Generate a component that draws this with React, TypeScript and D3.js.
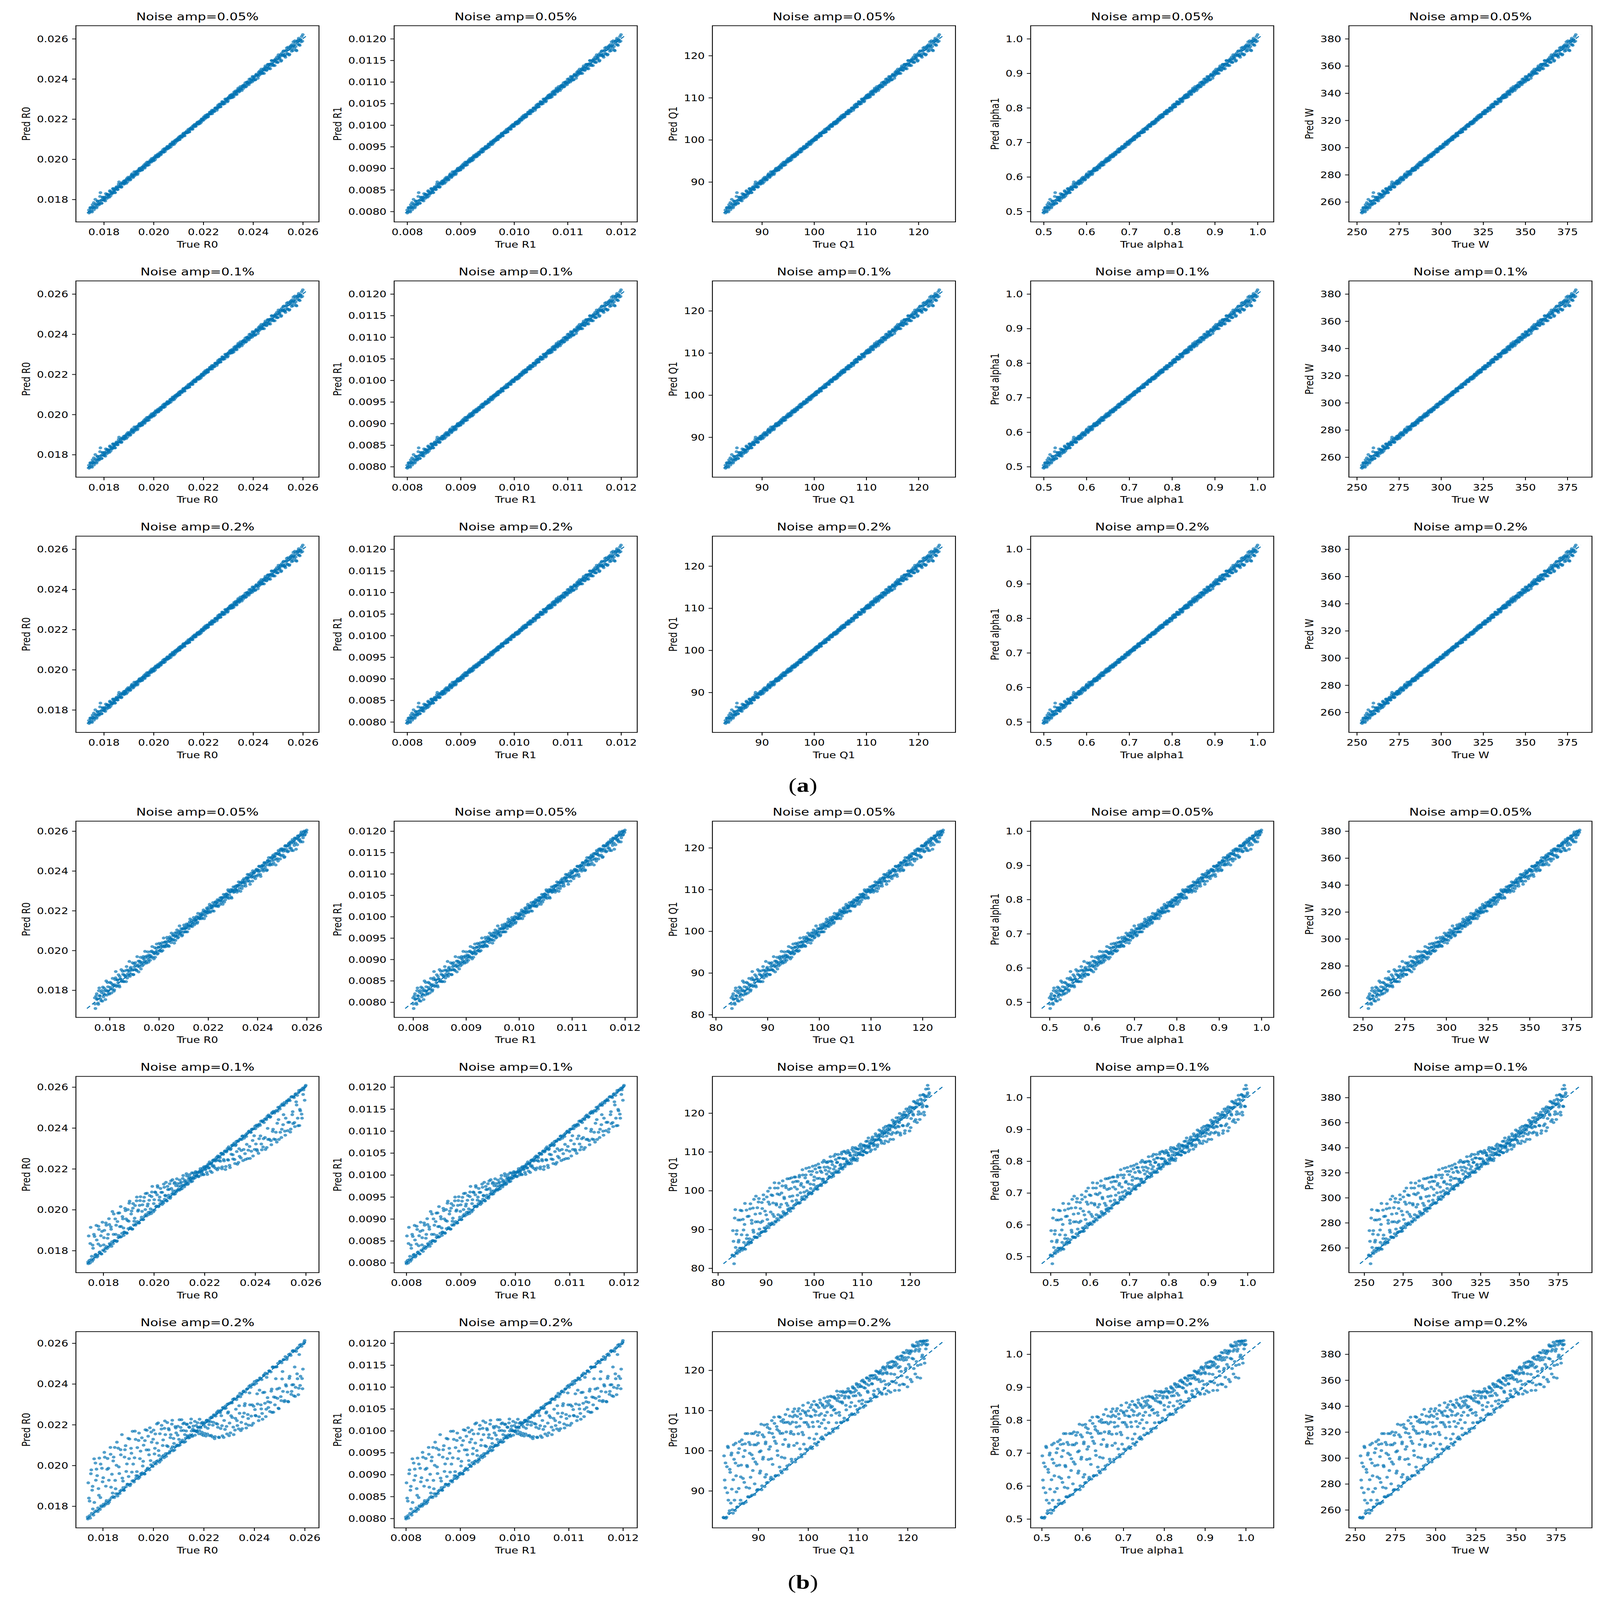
import * as d3 from 'd3';
import React, { useEffect, useRef } from 'react';

// Predicted vs true parameter scatter grid, (a) and (b) blocks of 3 x 5 panels

const PARAMS = ['R0', 'R1', 'Q1', 'alpha1', 'W'];
const NOISE = ['0.05%', '0.1%', '0.2%'];
const TRUE_MIN = [0.0174, 0.008, 83, 0.5, 253];
const TRUE_MAX = [0.026, 0.012, 124, 1.0, 380];
const X_STEP = [0.002, 0.001, 10, 0.1, 25];
const Y_STEP = [0.002, 0.0005, 10, 0.1, 20];
const X_DEC = [3, 3, 0, 1, 0];
const Y_DEC = [3, 4, 0, 1, 0];

// true values, per-mille of each parameter's range (same test samples in every panel)
const TRUE_U = [
    0, 3, 9, 12, 17, 21, 24, 30, 33, 38, 41, 47, 50, 54, 59, 62, 66, 72, 75, 79,
    84, 87, 92, 96, 99, 105, 108, 112, 117, 120, 125, 129, 133, 138, 141, 146, 150, 153, 158, 163,
    166, 170, 175, 178, 183, 187, 191, 195, 200, 204, 207, 212, 216, 221, 224, 229, 233, 237, 241, 246,
    250, 254, 258, 263, 266, 271, 275, 279, 283, 287, 292, 295, 300, 304, 308, 312, 317, 320, 325, 329,
    333, 338, 341, 346, 350, 354, 358, 362, 367, 370, 375, 379, 383, 388, 391, 396, 400, 404, 408, 413,
    416, 421, 425, 429, 433, 437, 442, 445, 450, 454, 458, 462, 467, 470, 475, 479, 483, 487, 492, 495,
    500, 504, 508, 513, 516, 521, 525, 529, 533, 537, 542, 545, 550, 554, 558, 562, 567, 571, 575, 579,
    583, 587, 592, 596, 600, 604, 608, 613, 616, 621, 625, 629, 633, 637, 642, 646, 650, 654, 658, 663,
    666, 671, 675, 679, 683, 688, 691, 696, 700, 704, 708, 712, 717, 721, 725, 729, 733, 738, 742, 746,
    750, 754, 758, 763, 767, 771, 775, 779, 783, 788, 792, 796, 800, 804, 808, 813, 817, 821, 825, 829,
    833, 838, 842, 846, 850, 854, 858, 863, 867, 871, 875, 879, 883, 888, 892, 896, 900, 904, 908, 913,
    917, 921, 925, 929, 933, 938, 942, 946, 950, 954, 958, 963, 967, 971, 975, 979, 983, 988, 992, 1000,
    // second batch of samples
    1, 6, 10, 15, 19, 23, 27, 31, 36, 40, 44, 48, 52, 57, 60, 64, 69, 73, 77, 82,
    85, 90, 94, 98, 102, 106, 110, 115, 118, 123, 127, 131, 135, 139, 144, 148, 152, 156, 160, 164,
    168, 172, 177, 181, 185, 189, 193, 198, 202, 206, 210, 214, 218, 223, 227, 231, 235, 239, 244, 248,
    252, 256, 261, 264, 269, 273, 277, 281, 285, 290, 293, 298, 302, 306, 310, 315, 319, 323, 327, 331,
    336, 340, 344, 348, 352, 356, 360, 365, 369, 373, 377, 381, 386, 390, 394, 398, 402, 406, 411, 415,
    419, 423, 427, 431, 435, 440, 444, 448, 452, 456, 460, 465, 469, 473, 477, 481, 485, 490, 494, 498,
    502, 506, 511, 515, 519, 523, 527, 531, 535, 540, 544, 548, 552, 556, 560, 565, 569, 573, 577, 581,
    585, 590, 594, 598, 602, 606, 611, 615, 619, 623, 627, 631, 635, 640, 644, 648, 652, 656, 661, 665,
    669, 673, 677, 681, 686, 690, 694, 698, 702, 706, 710, 715, 719, 723, 727, 731, 736, 740, 744, 748,
    752, 756, 761, 765, 769, 773, 777, 781, 786, 790, 794, 798, 802, 806, 811, 815, 819, 823, 827, 831,
    836, 840, 844, 848, 852, 856, 861, 865, 869, 873, 877, 881, 886, 890, 894, 898, 902, 906, 911, 915,
    919, 923, 927, 931, 936, 940, 944, 948, 952, 956, 961, 965, 969, 973, 977, 981, 986, 990, 995, 998,
];

// prediction error (pred - true), per-mille
const ERR_A = [
    8, -6, 14, -10, 22, 3, -14, 40, 5, -8, 18, -4, 10, 55, -12, 6, 15, -7, 2, 24,
    -9, 12, 4, -13, 16, 1, -5, 20, 9, -11, 3, 14, -6, 8, 30, -3, 11, -9, 5, 13,
    -4, 9, -12, 6, 15, -2, 7, -8, 12, 3, -10, 18, 1, -5, 9, -7, 4, 13, -3, 8,
    -9, 6, 11, -4, 2, 14, -7, 5, -1, 10, -6, 3, 8, -10, 4, 12, -3, 6, -8, 1,
    9, -5, 3, 11, -7, 2, 6, -3, 10, -6, 1, 7, -9, 4, 12, -2, 5, -7, 8, 2,
    -4, 10, -8, 3, 6, -2, 11, -6, 4, 0, 8, -5, 3, -9, 7, 1, -4, 9, -2, 5,
    -7, 3, 9, -4, 6, -1, -9, 5, 2, 10, -6, 4, -3, 8, -8, 1, 6, -5, 11, -2,
    4, -8, 7, 2, -5, 12, -3, 6, -10, 3, 9, -6, 1, 14, -4, 7, -9, 5, 10, -3,
    6, -11, 2, 13, -6, 4, -14, 9, 1, -7, 15, -3, 5, -10, 8, 2, -12, 11, -5, 7,
    16, -8, 3, -13, 10, -4, 7, -16, 12, 1, -9, 5, 14, -6, 2, -12, 9, -3, 18, -10,
    4, 13, -15, 6, -7, 20, -2, -18, 9, 3, -11, 15, -20, 7, -5, 12, -25, 2, 18, -9,
    -14, 8, 22, -17, 5, -28, 12, -6, 16, -22, 3, 25, -12, -40, 9, 14, -18, 6, -10, 24,
    -10, 16, 4, -18, 9, 28, -6, 12, -15, 20, 2, -9, 35, 7, -12, 18, -4, 10, -16, 6,
    14, -7, 3, 22, -11, 8, -3, 17, 1, -14, 10, 5, -8, 19, -2, 7, -12, 11, 4, -6,
    9, -3, 13, -9, 5, 1, -11, 8, 16, -5, 2, -7, 10, 4, -13, 6, 11, -4, 3, -8,
    7, -2, -10, 12, 3, -6, 9, -11, 4, 1, 13, -5, -2, 8, -9, 5, 0, 10, -6, 3,
    -8, 6, 2, -4, 11, -9, 4, 8, -3, 1, -7, 10, 3, -5, 6, -10, 9, 2, -4, 7,
    5, -7, 9, -1, -6, 8, 2, -10, 6, 3, -4, 11, -8, 5, -2, 7, -9, 4, 10, -5,
    3, 8, -6, 1, -10, 5, 9, -3, -7, 4, 12, -5, 7, -9, 2, 10, -4, 6, -11, 3,
    -5, 9, 2, -12, 6, -4, 11, -8, 3, 13, -6, 1, -11, 8, 4, -13, 7, -2, 12, -7,
    10, -4, -13, 5, 12, -8, 3, 16, -10, 6, -2, -15, 9, 4, -6, 14, -11, 7, 1, -14,
    -6, 12, -3, 17, -11, 5, -15, 9, 2, -19, 13, -7, 4, 18, -12, 6, -20, 10, 3, -14,
    15, -10, 8, -22, 4, 17, -13, 6, -24, 11, 2, -17, 21, -9, 5, -28, 14, -4, 19, -15,
    -26, 10, -12, 20, -30, 6, 15, -20, 2, 26, -16, 9, -35, 13, -8, 22, -24, 5, 18, -12,
];

// 0.05 %
const ERR_B1 = [
    25, -40, 40, 8, -30, 62, 12, -22, 35, 50, -10, 18, -35, 70, 5, 28, -15, 44, 2, -25,
    55, 10, -20, 36, 80, -8, 22, 48, -28, 15, 65, -5, 30, -18, 42, 8, 58, -12, 26, 75,
    -15, 34, 12, 52, -22, 20, 40, -6, 66, 14, -30, 28, 46, 4, -12, 38, 18, 60, -8, 24,
    44, -20, 10, 32, -4, 54, 16, -26, 36, 6, 48, -14, 22, 40, -8, 12, 30, -18, 50, 2,
    20, -12, 38, 8, -24, 28, 14, 42, -6, 18, -30, 26, 4, 34, -16, 10, 46, -2, 22, -20,
    12, 30, -14, 6, 24, -26, 16, 2, 36, -10, 20, -4, 28, -18, 8, 14, -22, 32, 0, -8,
    18, -16, 6, 26, -28, 10, -6, 22, -12, 4, 30, -20, 14, -2, 24, -30, 8, 16, -10, 20,
    -24, 6, 18, -14, 10, -32, 22, 2, -18, 12, -6, 28, -26, 8, 16, -38, 4, 20, -12, -4,
    14, -28, 8, 24, -16, -40, 10, 2, -22, 18, -8, -34, 12, 26, -14, 4, -44, 16, -6, 22,
    -20, 8, -36, 14, 2, -26, 20, -12, -48, 10, 4, -30, 16, -18, 6, -40, 12, 24, -8, -22,
    10, -34, 18, -14, 4, -52, 12, -24, 20, -6, -38, 8, 14, -28, 2, -46, 16, -10, 6, -30,
    12, -20, 4, -42, 18, -8, -26, 10, -56, 2, 14, -16, 8, -34, 20, -4, -22, 12, -12, 6,
    -12, 30, 6, -20, 48, 15, -8, 26, -30, 10, 38, -4, 20, -16, 55, 2, -22, 14, 34, -6,
    18, -26, 8, 44, -10, 24, 4, -18, 32, 12, -6, 50, -14, 20, 6, -28, 36, 10, -4, 16,
    28, -8, 14, -20, 40, 2, 22, -14, 8, 34, -4, 18, -24, 10, 30, -10, 4, 26, -16, 12,
    -6, 20, -16, 8, 30, -10, 14, 2, -22, 24, 6, -12, 18, -4, 28, -18, 10, 0, 22, -8,
    14, -4, 24, -18, 6, 16, -12, 4, 26, -8, 12, -20, 20, 2, -14, 18, -6, 8, -24, 14,
    -10, 16, 2, -20, 12, 4, -14, 22, -6, 10, -18, 6, 14, -10, 2, 20, -16, 8, -4, 12,
    6, -12, 16, -4, 10, -20, 4, 14, -8, 18, -14, 2, 10, -22, 6, -2, 16, -12, 4, -18,
    10, -20, 2, 14, -10, 6, -26, 12, -4, 8, -16, 18, -8, 4, -30, 10, -2, -14, 12, -6,
    -16, 8, -24, 4, 12, -8, -30, 14, -2, 6, -20, 10, -12, 2, 18, -26, 6, -10, -36, 8,
    4, -18, 10, -28, 6, -10, 16, -34, 2, -14, 8, -22, 12, -6, -42, 10, -16, 4, -26, 14,
    -8, 12, -30, 2, 16, -20, 6, -40, 10, -12, 18, -26, 4, -8, -48, 14, -18, 6, -32, 10,
    -4, 14, -28, 8, -50, 4, 16, -18, 6, -36, 10, -10, -24, 12, 2, -44, 8, -14, 4, -6,
];

// 0.1 %: R0 / R1 panels
const ERR_B2_R = [
    5, 150, -10, 190, 20, 80, -5, 120, 12, 175, -8, 60, 140, 8, 95, -12, 165, 30, 110, 4,
    130, -6, 70, 155, 10, 100, -14, 180, 45, 6, 125, 85, -8, 145, 15, 60, 170, -4, 105, 35,
    10, 140, 75, -10, 120, 50, 160, 6, 95, -12, 130, 25, 110, 2, 150, 65, -6, 90, 135, 14,
    80, -8, 115, 40, 10, 125, 60, -4, 100, 20, 85, 140, -10, 55, 95, 8, 70, 110, -2, 45,
    90, 12, 60, -6, 80, 30, 100, -10, 50, 15, 75, -4, 40, 85, 6, 55, -8, 35, 70, 2,
    20, 50, -6, 30, 8, 60, -10, 25, 4, 40, -12, 15, 35, -2, 10, -15, 28, 5, -8, 18,
    -4, 12, -18, 6, 20, -10, 2, -25, 14, -6, 8, -30, 4, -14, 16, -40, 0, -20, 10, -35,
    6, -50, -8, 12, -60, 2, -30, 10, -70, -4, -45, 8, -85, 0, -55, 14, -95, -10, -40, 4,
    -75, 10, -110, -6, -50, 6, -120, -90, 2, -65, 12, -130, -8, -100, 4, -55, -140, 8, -80, -2,
    -115, 6, -150, -40, 10, -95, -130, -4, -160, 2, -70, -120, 8, -145, -10, -100, 4, -165, -60, 12,
    -130, -6, -170, 10, -90, -150, 2, -120, -180, -8, -60, 6, -140, -175, 12, -110, -4, -155, -85, 8,
    -165, 4, -125, -185, 10, -95, -150, -6, -175, 8, -60, -140, 2, -190, -110, 6, -160, -30, 4, 10,
    -6, 8, 100, 4, -10, 60, 135, 2, 12, 90, -4, 160, 6, 40, -8, 115, 3, 70, -12, 145,
    8, 50, -4, 120, 2, 85, 10, -6, 160, 4, 35, -10, 100, 6, 140, -2, 55, 12, 90, -8,
    4, 125, -6, 60, 10, 150, 2, 80, -10, 105, 6, 40, -4, 130, 8, 70, -8, 115, 2, 45,
    -6, 95, 6, 130, -2, 50, 10, 75, 4, -10, 110, 2, 35, -6, 90, 8, 120, -4, 30, 6,
    65, -8, 4, 100, 10, 25, -6, 70, 2, 45, -10, 85, 6, 20, -4, 60, 8, -2, 40, 4,
    -6, 30, 8, -10, 45, 2, 18, -4, 55, 6, -8, 22, 10, -12, 35, 0, -6, 12, 25, -4,
    8, -14, 4, 10, -20, -4, 12, -30, 6, -8, 2, -45, 10, -16, 4, -2, -55, 8, -24, 2,
    -6, 10, -65, 4, -20, -8, 12, -80, 2, -35, 6, -100, -4, 10, -60, 2, -110, -6, 8, -50,
    4, -85, -10, 10, -125, 2, -45, 6, -105, -4, 12, -70, 2, -135, -8, 6, -95, 10, -150, -6,
    8, -60, 2, -120, -6, 10, -140, 4, -80, -8, 12, -155, 2, -100, 6, -170, -4, 10, -125, 4,
    -8, -145, 6, -100, 10, -4, -160, 2, -75, 12, -175, -6, 8, -130, 4, -55, 10, -180, -2, 6,
    -120, 8, -4, -170, 10, -80, 2, -150, 6, -40, -8, -185, 12, -100, 4, -135, 8, -6, -70, 6,
];

// 0.1 %: Q1 / alpha1 / W panels
const ERR_B2_Q = [
    10, 160, -54, 230, 40, 120, -5, 200, 70, 15, 250, 90, -10, 180, 30, 140, -20, 220, 60, 8,
    170, 25, 240, -8, 110, 200, 45, 12, 150, 260, -6, 90, 210, 35, 130, 5, 190, 70, 230, 18,
    120, -10, 200, 55, 160, 20, 240, 85, 6, 180, 130, 40, 215, -4, 100, 165, 30, 225, 70, 10,
    150, 190, 25, 110, -6, 175, 60, 210, 15, 135, 85, -10, 195, 45, 160, 8, 120, 180, 30, 95,
    140, -4, 170, 55, 110, 20, 155, 75, -8, 125, 180, 35, 90, 10, 145, 60, 115, -6, 160, 40,
    85, 130, 15, 100, -10, 145, 50, 115, 5, 75, 135, 25, 95, -6, 120, 40, 80, 110, 12, 60,
    100, 20, 70, -8, 115, 45, 85, 10, 60, 105, -12, 75, 30, 90, 4, 55, 95, -6, 40, 70,
    20, 80, -10, 55, 35, -20, 65, 10, 45, -15, 60, 25, -30, 40, 5, 50, -8, 30, 15, -25,
    35, -12, 20, 45, -30, 10, 55, -6, -40, 25, 5, 40, -20, 15, -50, 30, 0, -35, 20, 50,
    -15, 35, -45, 10, 25, -60, 5, 40, -25, 15, -70, 30, -5, 20, -40, 45, -80, 10, 25, -20,
    40, -55, 15, -30, 50, -90, 5, 30, -45, 20, -100, 10, 45, -65, -5, 35, -110, 15, -40, 25,
    -20, 55, -75, 10, 30, -95, 40, -35, 5, 60, -60, 20, -15, 45, -85, 25, 70, -45, 85, 30,
    4, 90, -8, 280, 6, 140, 12, 60, -6, 190, 8, 240, 2, 110, -10, 270, 5, 40, 175, -4,
    10, 210, -6, 130, 4, 60, 250, 8, 100, -2, 180, 12, 230, -8, 70, 6, 150, 2, 200, -6,
    8, 90, 14, 230, -4, 140, 6, 190, 10, 60, -8, 250, 4, 110, 12, 200, -6, 150, 2, 80,
    -4, 220, 10, 100, 4, 160, -8, 40, 6, 200, 12, 130, 2, 75, -6, 185, 8, 150, 10, 55,
    4, 160, -6, 100, 8, 190, 2, 40, 12, 140, -4, 85, 6, 170, 10, 30, -8, 130, 4, 65,
    8, 150, -2, 60, 10, 120, 4, 90, -6, 30, 12, 140, 2, 70, -8, 110, 6, 45, 8, 130,
    -4, 90, 6, 35, 10, 120, 2, 60, -6, 80, 8, 25, 4, 100, -10, 50, 12, 85, 2, 15,
    6, 65, -8, 40, 10, -4, 75, 2, 20, -12, 50, 6, -18, 35, 8, -6, 55, 4, -22, 30,
    -10, 25, 6, -28, 40, 2, -12, 15, 8, -35, 30, -4, 10, -20, 45, 4, -45, 12, -8, 20,
    6, -30, 20, -10, 40, 2, -50, 12, -4, 30, -20, 8, -65, 15, 4, -35, 25, -8, 10, -55,
    12, -20, 30, -6, -75, 8, 20, -40, 4, 35, -85, 10, -12, 25, -60, 6, 40, -95, 2, 18,
    -30, 10, 45, -70, 6, 25, -50, 12, -90, 35, 4, -25, 50, -65, 8, 30, -40, 15, 60, 20,
];

// 0.2 %: R0 / R1 panels
const ERR_B3_R = [
    8, 200, 90, -10, 260, 140, 30, 310, 5, 180, 240, -8, 120, 290, 60, 10, 220, 160, -5, 270,
    100, 15, 250, 190, -6, 300, 70, 140, 8, 230, 280, 40, 170, -10, 260, 110, 6, 210, 320, 50,
    -4, 180, 240, 90, 12, 270, 150, -8, 200, 60, 290, 4, 130, 230, 20, 175, -6, 250, 100, 10,
    210, 45, 160, -10, 240, 120, 6, 190, 80, 230, 14, 140, -4, 200, 60, 170, 8, 110, 220, 30,
    150, -6, 190, 70, 10, 160, 120, -8, 180, 40, 130, 4, 95, 150, 18, 60, -10, 120, 80, 6,
    110, 30, -6, 90, 130, 10, 60, 100, -12, 45, 80, 4, 55, -8, 70, 20, -15, 40, 8, -20,
    30, -10, 12, -30, 50, -4, -45, 20, -60, 6, -20, -75, 10, -40, 2, -90, -15, 8, -110, -30,
    4, -120, -50, 10, -80, -140, 2, -100, -30, -150, 6, -70, -125, -8, -160, -45, 4, -110, -170, 0,
    -90, -150, 8, -175, -60, -130, 2, -185, -100, -10, -160, -200, 6, -120, -70, -190, 4, -145, -210, -30,
    10, -170, -110, -220, -4, -150, -190, 8, -130, -230, -60, 2, -175, -205, -90, 6, -160, -240, -20, -140,
    -200, 4, -180, -120, -245, 10, -165, -215, -70, -6, -190, -250, -140, 8, -220, -100, -175, 2, -235, -150,
    -10, -200, -260, -130, 6, -230, -180, 12, -250, -90, -210, 4, -170, -265, -40, -220, 10, -190, -140, 15,
    -4, 110, 6, 240, 10, 160, -8, 60, 280, 4, 200, 12, 80, -6, 250, 2, 140, 8, 300, -2,
    6, 190, -10, 120, 4, 260, 8, 30, 210, -4, 90, 10, 300, 2, 150, -6, 240, 6, 70, 12,
    -8, 220, 4, 130, 10, 50, 260, -2, 170, 8, 100, -6, 280, 6, 40, 12, 210, -4, 140, 2,
    8, 70, -6, 180, 4, 230, 10, 110, -8, 40, 200, 2, 150, 12, 90, -4, 220, 6, 60, -10,
    4, 170, 8, 100, -6, 200, 10, 50, 2, 140, -4, 80, 12, 170, -8, 30, 6, 110, 4, 60,
    -4, 140, 8, 70, 2, 100, -10, 30, 6, 80, 12, -6, 50, 4, 90, -8, 25, 10, 60, 2,
    -6, 40, 8, -15, 4, 20, -35, 10, -2, -55, 6, 12, -70, -4, -25, 8, -95, 2, -45, 10,
    -130, -6, 4, -60, 12, -145, -8, 2, -90, 10, -165, -4, 6, -115, 8, -40, -180, 2, -75, -6,
    10, -195, 4, -110, -8, -160, 6, -55, 12, -205, -2, -135, 8, -80, -6, -215, 4, -170, 10, -100,
    -4, -225, 6, -125, 12, -185, -6, -70, 2, -210, 8, -150, -10, -240, 4, -95, 10, -200, -2, -165,
    6, -230, -8, -110, 12, -250, 2, -175, -4, -135, 8, -255, 10, -195, -6, -60, 4, -240, 12, -160,
    -2, -255, 8, -120, -6, -215, 10, -185, 4, -260, -8, -140, 6, -230, 12, -170, -4, -250, 2, 8,
];

// 0.2 %: Q1 / alpha1 / W panels
const ERR_B3_Q = [
    10, 380, 180, -8, 300, 420, 90, 20, 250, 350, 140, -12, 400, 60, 280, 200, 6, 330, 110, 390,
    30, 240, 360, 150, -6, 310, 410, 80, 200, 15, 340, 270, 120, 380, 4, 220, 300, 60, 370, 170,
    12, 290, 350, 100, 230, -10, 320, 180, 370, 50, 260, 8, 340, 140, 300, 210, 20, 360, 90, 250,
    330, 6, 200, 280, 120, 350, 40, 240, 310, -8, 160, 290, 70, 330, 220, 10, 270, 130, 300, 190,
    30, 250, 310, 100, 280, 8, 200, 260, 150, 300, 50, 230, -6, 270, 120, 190, 250, 20, 220, 160,
    240, 70, 200, 10, 260, 150, 220, 40, 180, 240, -10, 130, 210, 90, 230, 160, 15, 200, 110, 180,
    50, 210, 140, 190, 6, 170, 220, 100, 150, -8, 200, 120, 180, 30, 160, 190, 80, 140, 12, 170,
    120, 180, 20, 150, 90, 170, -6, 130, 160, 60, 140, 10, 170, 110, 150, 40, 130, 160, -10, 100,
    150, 80, 130, 20, 160, 110, 140, -8, 120, 150, 60, 100, 135, 10, 145, 90, 120, 40, 130, -6,
    110, 140, 30, 120, 80, 130, -10, 100, 140, 50, 115, 20, 90, 125, -30, 105, 135, 60, 10, 95,
    120, 40, 110, -20, 90, 130, 60, -50, 100, 25, 115, -60, 80, 120, 10, 70, -40, 105, 30, 90,
    -70, 100, 50, 120, -20, 80, 110, 10, -90, 95, 60, 115, -30, 85, 20, 100, -10, 75, 40, 60,
    6, 230, 330, -4, 140, 410, 8, 270, 60, 360, 12, 190, 310, -6, 400, 100, 4, 250, 350, 10,
    170, 390, 2, 280, 120, 350, -8, 210, 400, 10, 60, 320, 4, 250, 150, 370, -4, 190, 290, 8,
    340, 6, 230, 110, 390, 12, 170, 300, -6, 250, 60, 360, 4, 200, 320, 10, 130, 280, -2, 370,
    220, 8, 300, 150, -4, 260, 340, 10, 90, 230, 310, 2, 180, 280, -8, 350, 120, 6, 250, 200,
    12, 280, 170, 320, -6, 230, 100, 290, 4, 190, 260, 10, 140, 300, 60, -2, 240, 180, 8, 290,
    140, 6, 250, 190, -8, 120, 270, 10, 200, 60, 230, 2, 160, 250, 12, 100, 210, -6, 240, 130,
    8, 180, 230, 70, 200, -4, 150, 210, 10, 120, 190, 2, 90, 220, -8, 170, 60, 200, 6, 130,
    190, 4, 140, 170, 60, -6, 180, 120, 10, 150, 80, 2, 160, 130, -10, 100, 170, 8, 140, 50,
    4, 130, 160, 40, -8, 140, 100, 12, 155, 70, 2, 125, 150, -6, 95, 140, 20, 6, 110, 150,
    -10, 90, 130, 8, 120, 60, -20, 135, 100, 4, 125, -40, 80, 140, 10, 110, -50, 95, 130, 2,
    100, -60, 85, 130, 6, 115, -80, 60, 120, -4, 100, 130, -70, 90, 20, 125, -100, 75, 110, 8,
    95, -90, 130, 40, 110, -60, 85, 125, -20, 105, 70, -110, 110, 10, 90, 100, -40, 90, 60, 85,
];

// figure frame of the reference, scaled onto the window by the viewBox
const WIDTH = 4384;
const HEIGHT = 5479;
const AX_W = 666;
const AX_H = 672;
const COL_LEFT = [208, 1080, 1952, 2824, 3696];
const ROW_TOP = [[88, 962, 1836], [2812, 3686, 4560]];
const BLUE = '#0072B2';
const FONT = "'DejaVu Sans', sans-serif";

function errorsFor(group: number, row: number, col: number): number[] {
    if (group === 0) return ERR_A;
    if (row === 0) return ERR_B1;
    const rCols = col < 2;
    if (row === 1) return rCols ? ERR_B2_R : ERR_B2_Q;
    return rCols ? ERR_B3_R : ERR_B3_Q;
}

const stepTicks = ([a, b]: number[], step: number) =>
    d3.range(Math.ceil(a / step - 1e-9), Math.floor(b / step + 1e-9) + 1).map((k) => k * step);

function styleAxis(axis: any) {
    axis.attr('font-size', 30).attr('font-family', FONT);
    axis.select('.domain').remove();
    axis.selectAll('line').attr('stroke', '#000').attr('stroke-width', 2.4);
    axis.selectAll('text').attr('fill', '#000');
}

function drawPanel(root: any, left: number, top: number, row: number, col: number, errs: number[]) {
    const tMin = TRUE_MIN[col];
    const span = TRUE_MAX[col] - tMin;
    const n = Math.min(TRUE_U.length, errs.length);
    const pts = TRUE_U.slice(0, n).map((u, i) => ({
        t: tMin + (u / 1000) * span,
        p: tMin + ((u + errs[i]) / 1000) * span,
    }));
    const [lo, hi] = d3.extent(pts.flatMap((d) => [d.t, d.p])) as [number, number];
    const pad = (hi - lo) * 0.05;
    const x = d3.scaleLinear().domain([lo - pad, hi + pad]).range([0, AX_W]);
    const y = d3.scaleLinear().domain([lo - pad, hi + pad]).range([AX_H, 0]);

    const g = root.append('g').attr('transform', `translate(${left},${top})`);

    g.append('g')
        .selectAll('circle')
        .data(pts)
        .join('circle')
        .attr('cx', (d: any) => x(d.t))
        .attr('cy', (d: any) => y(d.p))
        .attr('r', 5)
        .attr('fill', BLUE)
        .attr('fill-opacity', 0.68);

    const diag = d3.line<number>().x((v) => x(v)).y((v) => y(v));
    g.append('path')
        .attr('d', diag([lo, hi]))
        .attr('fill', 'none')
        .attr('stroke', BLUE)
        .attr('stroke-width', 3)
        .attr('stroke-dasharray', '12 8');

    const xAxis = g.append('g')
        .attr('transform', `translate(0,${AX_H})`)
        .call(d3.axisBottom(x)
            .tickValues(stepTicks(x.domain(), X_STEP[col]))
            .tickFormat((d: any) => (+d).toFixed(X_DEC[col]))
            .tickSize(10.5).tickPadding(10.5).tickSizeOuter(0));
    styleAxis(xAxis);
    xAxis.selectAll('text').attr('dy', '0.82em');

    const yAxis = g.append('g')
        .call(d3.axisLeft(y)
            .tickValues(stepTicks(y.domain(), Y_STEP[col]))
            .tickFormat((d: any) => (+d).toFixed(Y_DEC[col]))
            .tickSize(10.5).tickPadding(10.5).tickSizeOuter(0));
    styleAxis(yAxis);
    yAxis.selectAll('text').attr('dy', '0.36em');

    g.append('rect')
        .attr('width', AX_W)
        .attr('height', AX_H)
        .attr('fill', 'none')
        .attr('stroke', '#000')
        .attr('stroke-width', 2.4);

    g.append('text')
        .attr('x', AX_W / 2)
        .attr('y', -19)
        .attr('text-anchor', 'middle')
        .attr('font-family', FONT)
        .attr('font-size', 36)
        .text(`Noise amp=${NOISE[row]}`);

    g.append('text')
        .attr('x', AX_W / 2)
        .attr('y', AX_H + 88)
        .attr('text-anchor', 'middle')
        .attr('font-family', FONT)
        .attr('font-size', 30)
        .text(`True ${PARAMS[col]}`);

    const labelW = d3.max(yAxis.selectAll('text').nodes(), (nd: any) => nd.getBBox().width) || 0;
    g.append('text')
        .attr('transform', `translate(${-(40 + labelW)},${AX_H / 2}) rotate(-90)`)
        .attr('text-anchor', 'middle')
        .attr('font-family', FONT)
        .attr('font-size', 30)
        .text(`Pred ${PARAMS[col]}`);
}

export default function App() {
    const ref = useRef<SVGSVGElement>(null);

    useEffect(() => {
        const svg = d3.select(ref.current);
        svg.selectAll('*').remove();
        svg.append('rect').attr('width', WIDTH).attr('height', HEIGHT).attr('fill', '#fff');

        ROW_TOP.forEach((tops, group) => {
            tops.forEach((top, row) => {
                COL_LEFT.forEach((left, col) => {
                    drawPanel(svg, left, top, row, col, errorsFor(group, row, col));
                });
            });
        });

        const tags = [['a', 2712], ['b', 5440]];
        tags.forEach(([letter, yy]) => {
            const t = svg.append('text')
                .attr('x', 2200)
                .attr('y', yy)
                .attr('text-anchor', 'middle')
                .attr('font-family', "'Liberation Serif', 'DejaVu Serif', serif")
                .attr('font-size', 68);
            t.append('tspan').text('(');
            t.append('tspan').attr('font-weight', 'bold').text(letter as string);
            t.append('tspan').text(')');
        });
    }, []);

    return (
        <svg
            ref={ref}
            viewBox={`0 0 ${WIDTH} ${HEIGHT}`}
            preserveAspectRatio="none"
            style={{ position: 'absolute', left: 0, top: 0, width: '100vw', height: '100vh', display: 'block' }}
        />
    );
}
